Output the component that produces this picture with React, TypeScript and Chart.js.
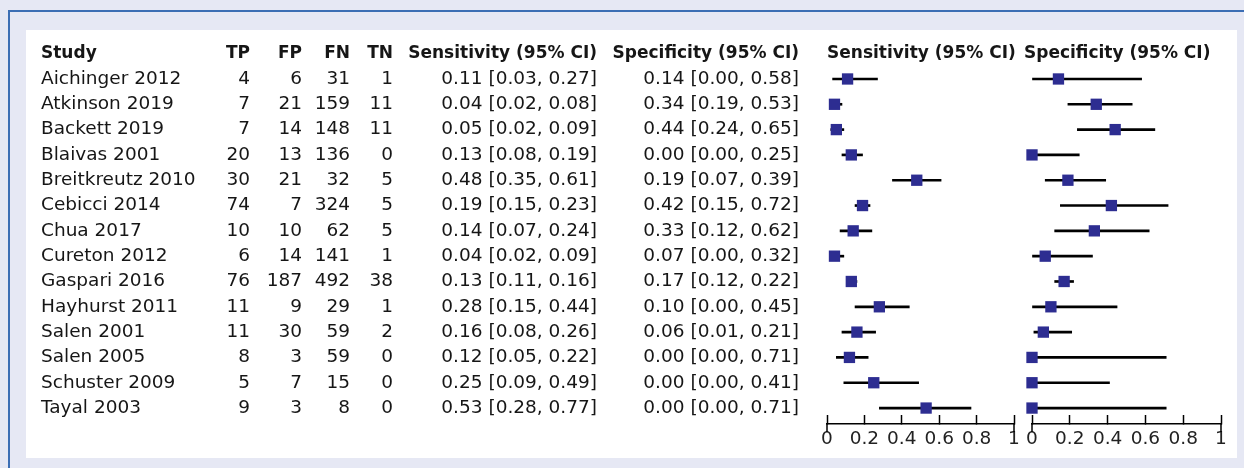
import React, { useEffect, useRef } from 'react';
import { Chart, registerables } from 'chart.js';

Chart.register(...registerables);

// ---------- data ----------
const studies = [
  'Aichinger 2012', 'Atkinson 2019', 'Backett 2019', 'Blaivas 2001', 'Breitkreutz 2010',
  'Cebicci 2014', 'Chua 2017', 'Cureton 2012', 'Gaspari 2016', 'Hayhurst 2011',
  'Salen 2001', 'Salen 2005', 'Schuster 2009', 'Tayal 2003',
];
const tp = [4, 7, 7, 20, 30, 74, 10, 6, 76, 11, 11, 8, 5, 9];
const fp = [6, 21, 14, 13, 21, 7, 10, 14, 187, 9, 30, 3, 7, 3];
const fn = [31, 159, 148, 136, 32, 324, 62, 141, 492, 29, 59, 59, 15, 8];
const tn = [1, 11, 11, 0, 5, 5, 5, 1, 38, 1, 2, 0, 0, 0];

const sensEst = [0.11, 0.04, 0.05, 0.13, 0.48, 0.19, 0.14, 0.04, 0.13, 0.28, 0.16, 0.12, 0.25, 0.53];
const sensLow = [0.03, 0.02, 0.02, 0.08, 0.35, 0.15, 0.07, 0.02, 0.11, 0.15, 0.08, 0.05, 0.09, 0.28];
const sensHigh = [0.27, 0.08, 0.09, 0.19, 0.61, 0.23, 0.24, 0.09, 0.16, 0.44, 0.26, 0.22, 0.49, 0.77];

const specEst = [0.14, 0.34, 0.44, 0.0, 0.19, 0.42, 0.33, 0.07, 0.17, 0.1, 0.06, 0.0, 0.0, 0.0];
const specLow = [0.0, 0.19, 0.24, 0.0, 0.07, 0.15, 0.12, 0.0, 0.12, 0.0, 0.01, 0.0, 0.0, 0.0];
const specHigh = [0.58, 0.53, 0.65, 0.25, 0.39, 0.72, 0.62, 0.32, 0.22, 0.45, 0.21, 0.71, 0.41, 0.71];

const axisTicks = [0, 0.2, 0.4, 0.6, 0.8, 1];
const tableHeaders = ['Study', 'TP', 'FP', 'FN', 'TN', 'Sensitivity (95% CI)', 'Specificity (95% CI)'];
const forestTitles = ['Sensitivity (95% CI)', 'Specificity (95% CI)'];

// ---------- styling / layout ----------
const FAMILY = '"DejaVu Sans", Verdana, sans-serif';
const TEXT = '#161616';
const BLUE = '#2d2d91';
const ROW_MIN = -1.5;
const ROW_MAX = 13.63;
const HEADER_ROW = -1;
const PAD_TOP = 41;
const PAD_BOTTOM = 14;
const XAXIS_H = 30;

const fmt = (v: number) => v.toFixed(2);
const ci = (e: number, l: number, h: number) => `${fmt(e)} [${fmt(l)}, ${fmt(h)}]`;

// column anchors (x in page px) and alignment
const cols: { x: number; align: CanvasTextAlign }[] = [
  { x: 41, align: 'left' },
  { x: 250, align: 'right' },
  { x: 302, align: 'right' },
  { x: 350, align: 'right' },
  { x: 393, align: 'right' },
  { x: 597, align: 'right' },
  { x: 799, align: 'right' },
];

const tablePlugin = {
  id: 'tableText',
  afterDraw(chart: any) {
    const { ctx } = chart;
    const y = chart.scales.y;
    ctx.save();
    ctx.fillStyle = TEXT;
    ctx.textBaseline = 'middle';
    ctx.font = `bold 17px ${FAMILY}`;
    const hy = y.getPixelForValue(HEADER_ROW);
    tableHeaders.forEach((h, c) => {
      ctx.textAlign = cols[c].align;
      ctx.fillText(h, cols[c].x, hy);
    });
    ctx.font = `18.5px ${FAMILY}`;
    studies.forEach((s, i) => {
      const py = y.getPixelForValue(i);
      const cells = [
        s, String(tp[i]), String(fp[i]), String(fn[i]), String(tn[i]),
        ci(sensEst[i], sensLow[i], sensHigh[i]),
        ci(specEst[i], specLow[i], specHigh[i]),
      ];
      cells.forEach((t, c) => {
        ctx.textAlign = cols[c].align;
        ctx.fillText(t, cols[c].x, py);
      });
    });
    ctx.restore();
  },
};

function forestPlugin(title: string, dx: number) {
  return {
    id: 'forestExtras',
    afterDraw(chart: any) {
      const { ctx, chartArea } = chart;
      const x = chart.scales.x;
      const y = chart.scales.y;
      ctx.save();
      // title
      ctx.fillStyle = TEXT;
      ctx.textBaseline = 'middle';
      ctx.textAlign = 'left';
      ctx.font = `bold 17px ${FAMILY}`;
      ctx.fillText(title, chartArea.left + dx, y.getPixelForValue(HEADER_ROW));
      // end ticks extend below the axis line
      ctx.strokeStyle = '#000';
      ctx.lineWidth = 1.5;
      [axisTicks[0], axisTicks[axisTicks.length - 1]].forEach((v) => {
        const px = x.getPixelForValue(v);
        ctx.beginPath();
        ctx.moveTo(px, chartArea.bottom);
        ctx.lineTo(px, chartArea.bottom + 8);
        ctx.stroke();
      });
      ctx.restore();
    },
  };
}

function makeConfig(
  est: number[], low: number[], high: number[],
  padLeft: number, padRight: number, title: string, titleDx: number, withTable: boolean,
): any {
  const plugins: any[] = [forestPlugin(title, titleDx)];
  if (withTable) plugins.push(tablePlugin);
  return {
    type: 'bar',
    data: {
      datasets: [
        {
          type: 'scatter',
          data: est.map((v, i) => ({ x: v, y: i })),
          pointStyle: 'rect',
          pointRadius: 8,
          pointHoverRadius: 8,
          pointBorderWidth: 0,
          pointBackgroundColor: BLUE,
          backgroundColor: BLUE,
          borderColor: BLUE,
          clip: false,
          order: 0,
        },
        {
          type: 'bar',
          indexAxis: 'y',
          data: low.map((l, i) => ({ x: [l, high[i]], y: i })),
          backgroundColor: '#000',
          borderWidth: 0,
          barThickness: 2,
          clip: false,
          order: 1,
        },
      ],
    },
    options: {
      responsive: false,
      animation: false,
      events: [],
      layout: { padding: { left: padLeft, right: padRight, top: PAD_TOP, bottom: PAD_BOTTOM } },
      plugins: { legend: { display: false }, tooltip: { enabled: false } },
      scales: {
        x: {
          type: 'linear',
          min: 0,
          max: 1,
          offset: false,
          afterBuildTicks: (s: any) => {
            s.ticks = axisTicks.map((v) => ({ value: v }));
          },
          afterFit: (s: any) => {
            s.height = XAXIS_H;
            s.paddingLeft = 0;
            s.paddingRight = 0;
          },
          grid: {
            offset: false,
            drawOnChartArea: false,
            drawTicks: true,
            tickLength: -9,
            color: '#000',
            tickWidth: 1.5,
          },
          border: { display: true, color: '#000', width: 1.5 },
          ticks: {
            padding: 13,
            color: '#222',
            font: { size: 18.5, family: FAMILY },
            maxRotation: 0,
            autoSkip: false,
            callback: (v: any) => String(v),
          },
        },
        y: {
          type: 'linear',
          reverse: true,
          min: ROW_MIN,
          max: ROW_MAX,
          offset: false,
          display: false,
        },
      },
    },
    plugins,
  };
}

export default function App() {
  const refA = useRef<HTMLCanvasElement | null>(null);
  const refB = useRef<HTMLCanvasElement | null>(null);

  useEffect(() => {
    Chart.defaults.font.family = FAMILY;
    const a = new Chart(refA.current as HTMLCanvasElement,
      makeConfig(sensEst, sensLow, sensHigh, 827, 8, forestTitles[0], 0, true));
    const b = new Chart(refB.current as HTMLCanvasElement,
      makeConfig(specEst, specLow, specHigh, 10, 23, forestTitles[1], -8, false));
    return () => {
      a.destroy();
      b.destroy();
    };
  }, []);

  return (
    <div style={{ position: 'fixed', left: 0, top: 0, width: 1244, height: 468, background: '#e6e8f4', overflow: 'hidden' }}>
      <div style={{ position: 'absolute', left: 8, top: 10, width: 1236, height: 2, background: '#3c6eb4' }} />
      <div style={{ position: 'absolute', left: 8, top: 10, width: 2, height: 458, background: '#3c6eb4' }} />
      <div style={{ position: 'absolute', left: 26, top: 30, width: 1211, height: 428, background: '#ffffff' }} />
      <canvas ref={refA} width={1022} height={468} style={{ position: 'absolute', left: 0, top: 0 }} />
      <canvas ref={refB} width={222} height={468} style={{ position: 'absolute', left: 1022, top: 0 }} />
    </div>
  );
}
